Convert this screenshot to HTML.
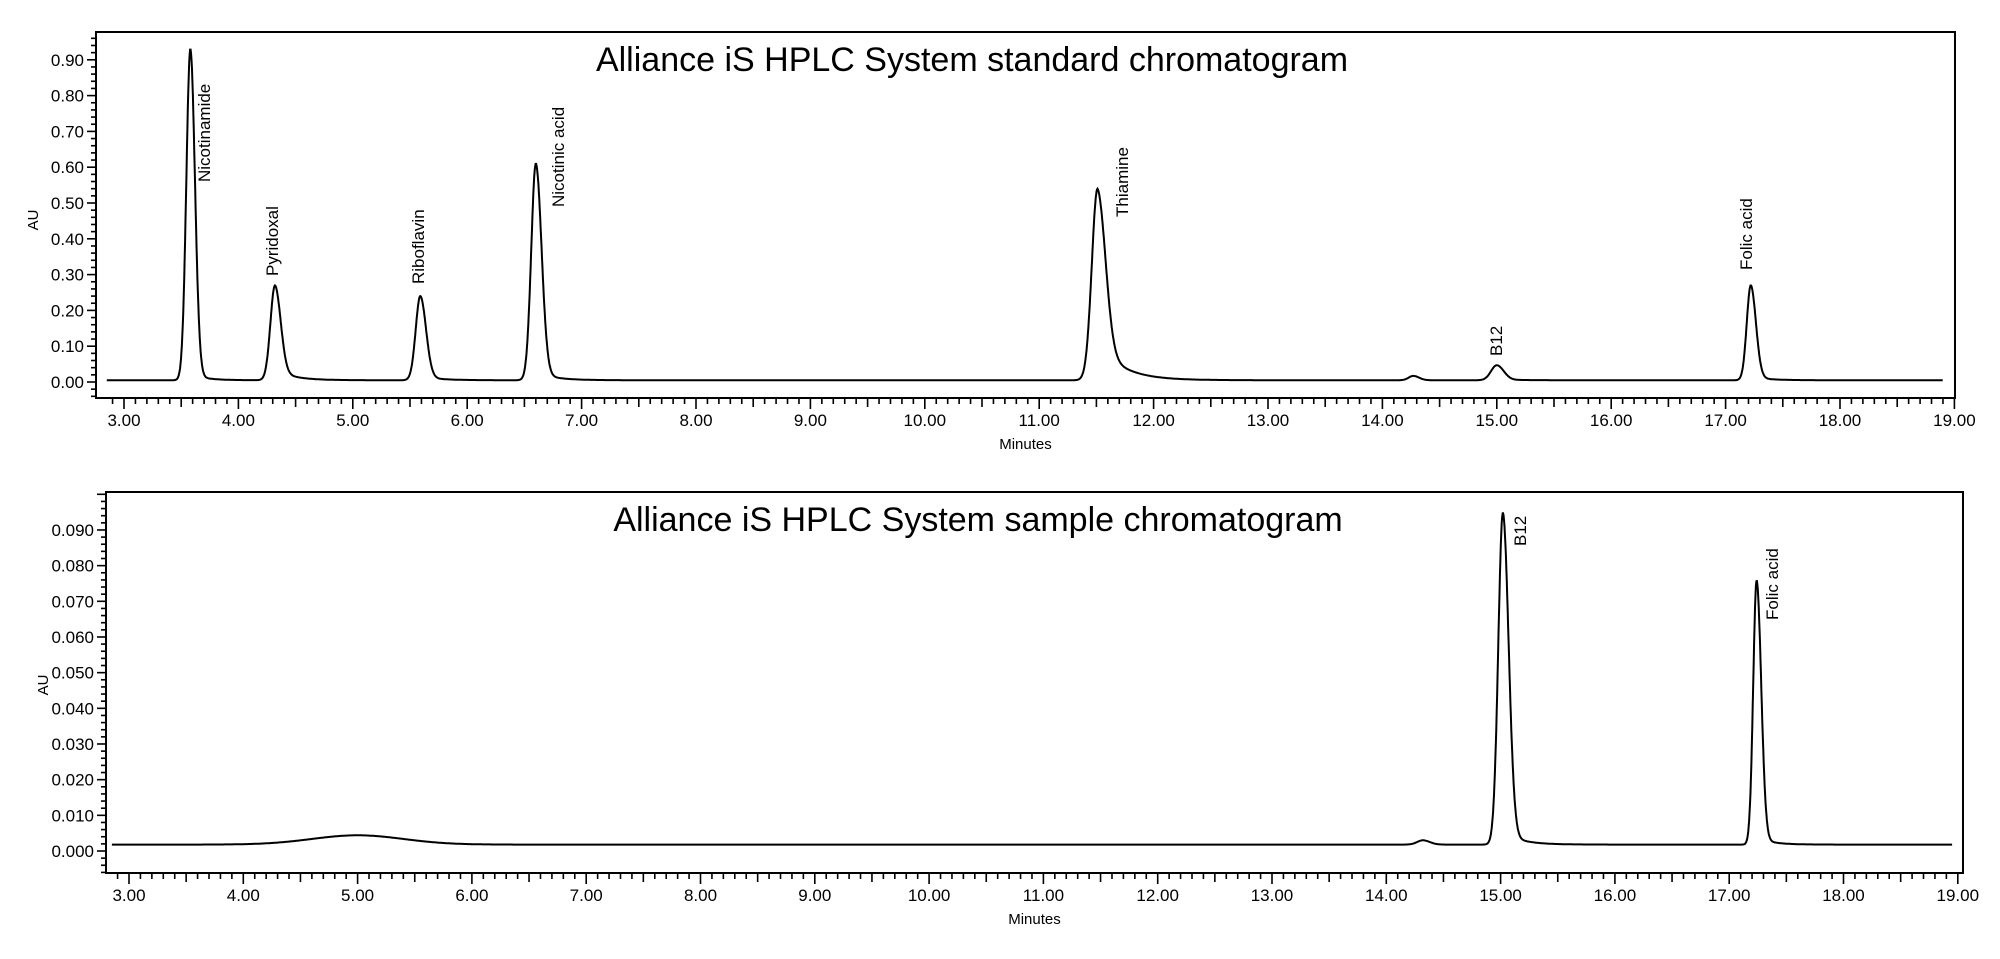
<!DOCTYPE html>
<html><head><meta charset="utf-8"><style>
html,body{margin:0;padding:0;background:#fff;}
svg{display:block;font-family:"Liberation Sans",Arial,sans-serif;}
</style></head><body>
<svg id="s" width="2000" height="959" viewBox="0 0 2000 959" xmlns="http://www.w3.org/2000/svg"></svg>
<script>
const s=document.getElementById('s');let h='';
function gen(P){
 const X=t=>P.x0+(t-3)*P.pxm, Y=v=>P.y0-v*P.pyu;
 h+=`<rect x="${P.L}" y="${P.T}" width="${P.R-P.L}" height="${P.B-P.T}" fill="none" stroke="#000" stroke-width="2"/>`;
 for(let i=0;;i++){const t=2.9+i*0.1;if(t>19.001)break;const x=X(t);if(x<P.L)continue;
  const r=Math.round(t*10);const maj=r%10==0,half=r%5==0;
  h+=`<line x1="${x}" y1="${P.B}" x2="${x}" y2="${P.B+(maj?11:half?9:6)}" stroke="#000" stroke-width="1.6"/>`;
  if(maj)h+=`<text x="${x}" y="${P.B+28}" font-size="17" text-anchor="middle">${(r/10).toFixed(2)}</text>`;}
 const n0=Math.ceil(P.ymin/P.minor);
 for(let k=n0;;k++){const v=k*P.minor;const y=Y(v);if(y<P.T+2)break;if(y>P.B)continue;
  const maj=k%P.every==0;
  h+=`<line x1="${P.L}" y1="${y}" x2="${P.L-(maj?9:5)}" y2="${y}" stroke="#000" stroke-width="1.6"/>`;
  if(maj&&y>P.T+10)h+=`<text x="${P.L-12}" y="${y+6}" font-size="17" text-anchor="end">${v.toFixed(P.dec)}</text>`;}
 h+=`<text x="${(P.L+P.R)/2}" y="${P.B+51}" font-size="15" text-anchor="middle">Minutes</text>`;
 h+=`<text transform="translate(${P.L-58},${P.ay}) rotate(-90)" font-size="15" text-anchor="middle">AU</text>`;
 h+=`<text x="${P.tx}" y="${P.ty}" font-size="34" text-anchor="middle">${P.title}</text>`;
 let d='';
 for(let t=P.t0;t<=P.t1;t+=0.004){let v=P.base(t);
  for(const p of P.peaks){const [c,a,sl,sr,tail]=p;const dt=t-c;
   v+= dt<0? a*Math.exp(-dt*dt/(2*sl*sl)) : a*((1-tail)*Math.exp(-dt*dt/(2*sr*sr))+tail*Math.exp(-dt/(sr*3)));}
  d+=(d?'L':'M')+X(t).toFixed(1)+','+Y(v).toFixed(1);}
 h+=`<path d="${d}" fill="none" stroke="#000" stroke-width="2"/>`;
 for(const l of P.labels)h+=`<text transform="translate(${l[1]},${l[2]}) rotate(-90)" font-size="17">${l[0]}</text>`;
}
gen({L:96,R:1955,T:32,B:398,x0:124,pxm:114.4,y0:382,pyu:358,ymin:-0.04,minor:0.02,every:5,dec:2,ay:220,
 title:"Alliance iS HPLC System standard chromatogram",tx:972,ty:71,t0:2.85,t1:18.9,
 base:t=>0.005,
 peaks:[[3.58,0.925,0.035,0.04,0.02],[4.32,0.265,0.04,0.05,0.12],[5.59,0.235,0.04,0.05,0.05],[6.60,0.605,0.04,0.05,0.04],[11.51,0.535,0.05,0.07,0.2],[14.27,0.012,0.04,0.05,0],[15.0,0.042,0.05,0.06,0.05],[17.22,0.265,0.035,0.045,0.04]],
 labels:[["Nicotinamide",210,182],["Pyridoxal",278,276],["Riboflavin",424,284],["Nicotinic acid",564,207],["Thiamine",1128,217],["B12",1502,356],["Folic acid",1752,270]]});
gen({L:106,R:1963,T:492,B:873,x0:129,pxm:114.3,y0:851,pyu:3567,ymin:-0.006,minor:0.002,every:5,dec:3,ay:685,
 title:"Alliance iS HPLC System sample chromatogram",tx:978,ty:531,t0:2.85,t1:18.95,
 base:t=>0.0018+0.0026*Math.exp(-Math.pow(t-5.0,2)/(2*0.4*0.4)),
 peaks:[[14.32,0.0012,0.05,0.06,0],[15.02,0.093,0.04,0.05,0.04],[17.24,0.074,0.03,0.04,0.03]],
 labels:[["B12",1526,546],["Folic acid",1778,620]]});
s.innerHTML=h;
</script>
</body></html>
